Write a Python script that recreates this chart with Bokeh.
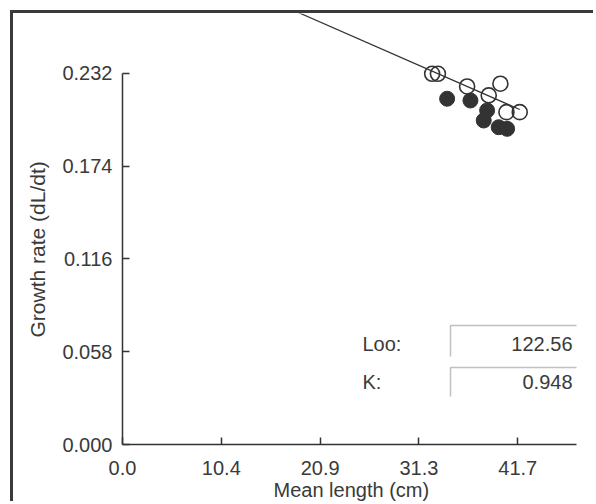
import numpy as np
from bokeh.plotting import figure
from bokeh.models import Range1d, FixedTicker, Label, BoxAnnotation, Title
from bokeh.embed import file_html
from bokeh.resources import INLINE

# ---- data ----
open_length = [32.67, 33.28, 36.36, 39.87, 38.64, 40.51, 41.91]
open_rate = [0.2318, 0.2318, 0.2239, 0.2256, 0.2183, 0.2078, 0.2078]
filled_length = [34.25, 36.71, 38.47, 38.11, 39.69, 40.58]
filled_rate = [0.2162, 0.2151, 0.2089, 0.2026, 0.1984, 0.1974]

L_inf = 122.56
K = 0.948

x_ticks = [0.0, 10.425, 20.85, 31.275, 41.7]
x_tick_labels = ["0.0", "10.4", "20.9", "31.3", "41.7"]
y_ticks = [0.0, 0.058, 0.116, 0.174, 0.232]
y_tick_labels = ["0.000", "0.058", "0.116", "0.174", "0.232"]

# ---- layout / style ----
X_MAX = 47.9
Y_MAX = 0.2695
FONT = "Liberation Sans"
TXT = "#3a3a3a"
INK = "#333333"

p = figure(width=583, height=491, output_backend="svg", toolbar_location=None,
           x_range=Range1d(0, X_MAX), y_range=Range1d(0, Y_MAX),
           min_border_left=109, min_border_right=20, min_border_top=0, min_border_bottom=60,
           background_fill_color="white", border_fill_color="white")
p.styles = {"border-left": "3px solid #3a3a3a", "border-top": "3px solid #3a3a3a",
            "margin-left": "10px", "margin-top": "10px"}
p.outline_line_color = None
p.grid.visible = False

# axes
xa = p.xaxis[0]
ya = p.yaxis[0]
xa.ticker = FixedTicker(ticks=x_ticks)
ya.ticker = FixedTicker(ticks=y_ticks)
xa.major_label_overrides = dict(zip(x_ticks, x_tick_labels))
ya.major_label_overrides = dict(zip(y_ticks, y_tick_labels))
xa.bounds = (0, X_MAX)
ya.bounds = (0, y_ticks[-1])
for ax in (xa, ya):
    ax.axis_line_color = INK
    ax.axis_line_width = 1.5
    ax.major_tick_line_color = INK
    ax.major_tick_line_width = 1.5
    ax.major_tick_in = 7
    ax.major_tick_out = 0
    ax.minor_tick_line_color = None
    ax.major_label_text_font = FONT
    ax.major_label_text_font_size = "20px"
    ax.major_label_text_color = TXT
xa.major_label_standoff = 16
ya.major_label_standoff = 10

# axis titles as side titles (not clipped to the frame)
p.add_layout(Title(text="Mean length (cm)", align="left", offset=151, standoff=0,
                   vertical_align="middle", text_font=FONT, text_font_size="20px",
                   text_font_style="normal", text_color=TXT), "below")
p.add_layout(Title(text="Growth rate (dL/dt)", align="left", offset=107, standoff=19,
                   vertical_align="middle", text_font=FONT, text_font_size="21px",
                   text_font_style="normal", text_color=TXT), "left")


# page-pixel positions of free text inside the frame, converted to data units
def dx(px):
    return (px - 122) * X_MAX / 454.0


def dy(py):
    return (444 - py) * Y_MAX / 431.0


# fitted line dL/dt = K/365 * (Loo - L)
line_x = np.array([0.0, max(open_length)])
line_y = K / 365.0 * (L_inf - line_x)
p.line(line_x, line_y, line_color=INK, line_width=1.2)

# points
p.scatter(filled_length, filled_rate, size=15, marker="circle",
          fill_color=INK, line_color=INK, line_width=1)
p.scatter(open_length, open_rate, size=15, marker="circle",
          fill_color="white", fill_alpha=0.0, line_color=INK, line_width=1.6)

# parameter boxes
param_names = ["Loo:", "K:"]
param_values = [f"{L_inf:.2f}", f"{K:.3f}"]
row_y = [343, 381]
box_top = [325, 367]
box_bot = [356, 396]
for name, val, ry, bt, bb in zip(param_names, param_values, row_y, box_top, box_bot):
    p.add_layout(Label(x=dx(362), y=dy(ry), text=name, text_font=FONT,
                       text_font_size="20px", text_color=TXT,
                       text_align="left", text_baseline="middle"))
    p.add_layout(Label(x=dx(572), y=dy(ry), text=val, text_font=FONT,
                       text_font_size="20px", text_color=TXT,
                       text_align="right", text_baseline="middle"))
    p.add_layout(BoxAnnotation(left=dx(450), right=dx(577), top=dy(bt), bottom=dy(bt),
                               fill_alpha=0, line_color=INK, line_width=1.5))
    p.add_layout(BoxAnnotation(left=dx(450), right=dx(450), top=dy(bt), bottom=dy(bb),
                               fill_alpha=0, line_color=INK, line_width=1.5))

open("out.html", "w").write(file_html(p, INLINE))
